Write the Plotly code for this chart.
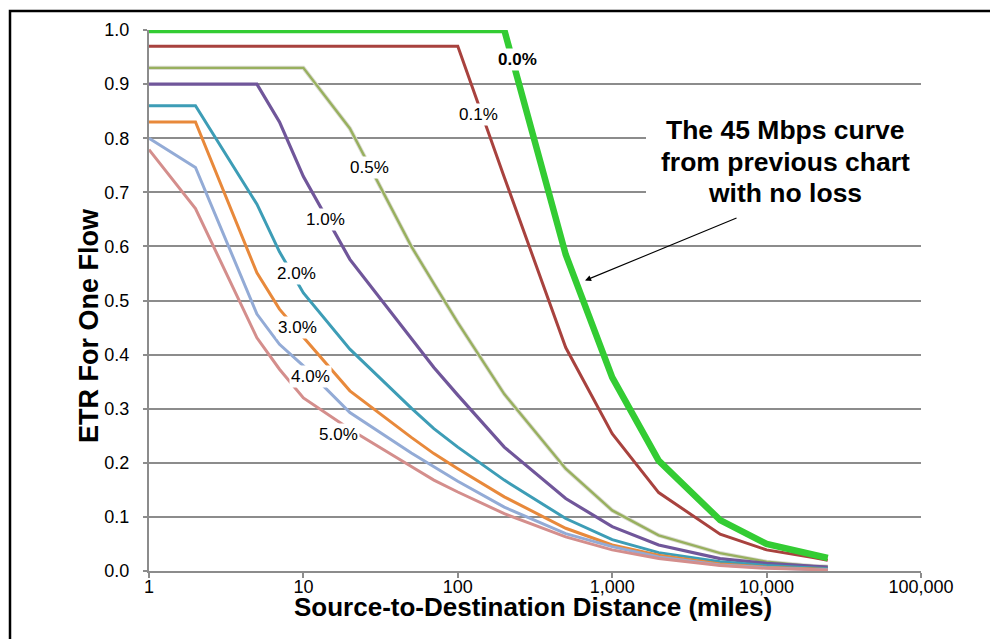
import plotly.graph_objects as go

# ---------------- data ----------------
distance_miles = [1, 2, 5, 7, 10, 20, 50, 70, 100, 200, 500, 1000, 2000, 5000, 10000, 20000, 24900]

loss_0_0 = [1.0, 1.0, 1.0, 1.0, 1.0, 1.0, 1.0, 1.0, 1.0, 1.0, 0.585, 0.358, 0.204, 0.094, 0.050, 0.029, 0.024]
loss_0_1 = [0.97, 0.97, 0.97, 0.97, 0.97, 0.97, 0.97, 0.97, 0.97, 0.728, 0.413, 0.254, 0.145, 0.068, 0.039, 0.025, 0.020]
loss_0_5 = [0.93, 0.93, 0.93, 0.93, 0.93, 0.818, 0.600, 0.531, 0.459, 0.327, 0.189, 0.112, 0.066, 0.033, 0.017, 0.009, 0.008]
loss_1_0 = [0.90, 0.90, 0.90, 0.83, 0.729, 0.576, 0.429, 0.376, 0.325, 0.229, 0.134, 0.082, 0.048, 0.023, 0.014, 0.008, 0.007]
loss_2_0 = [0.86, 0.86, 0.678, 0.590, 0.514, 0.410, 0.301, 0.263, 0.229, 0.168, 0.097, 0.058, 0.034, 0.017, 0.010, 0.005, 0.004]
loss_3_0 = [0.83, 0.83, 0.551, 0.484, 0.432, 0.333, 0.247, 0.217, 0.189, 0.137, 0.079, 0.048, 0.029, 0.013, 0.007, 0.004, 0.003]
loss_4_0 = [0.80, 0.746, 0.475, 0.419, 0.379, 0.293, 0.218, 0.192, 0.166, 0.118, 0.069, 0.045, 0.026, 0.011, 0.006, 0.003, 0.003]
loss_5_0 = [0.779, 0.670, 0.431, 0.373, 0.320, 0.262, 0.193, 0.168, 0.146, 0.106, 0.063, 0.039, 0.023, 0.010, 0.005, 0.003, 0.002]

series_labels = ["0.0%", "0.1%", "0.5%", "1.0%", "2.0%", "3.0%", "4.0%", "5.0%"]

x_tick_values = [1, 10, 100, 1000, 10000, 100000]
x_tick_labels = ["1", "10", "100", "1,000", "10,000", "100,000"]
y_tick_values = [0.0, 0.1, 0.2, 0.3, 0.4, 0.5, 0.6, 0.7, 0.8, 0.9, 1.0]
y_tick_labels = ["0.0", "0.1", "0.2", "0.3", "0.4", "0.5", "0.6", "0.7", "0.8", "0.9", "1.0"]

x_title = "Source-to-Destination Distance (miles)"
y_title = "ETR For One Flow"
note_lines = ["The 45 Mbps curve", "from previous chart", "with no loss"]

# ---------------- styling / layout ----------------
# The page body has an 8 px margin, so the figure is drawn 8 px smaller and
# all reference-pixel positions are relative to the plot area.
OFF = 8
W, H = 998 - OFF, 639 - OFF
L, R, T, B = 149, 921, 28, 571  # plot area in reference (screen) pixels
FONT = "Liberation Sans, Arial, sans-serif"
GRID = "#8c8c8c"


def px_x(px):
    return (px - L) / (R - L)


def px_y(py):
    return (B - py) / (B - T)


series = [
    # (values, colour, width, label, label pos (log10 x, y), bold)
    (loss_0_5, "#98B05E", 2.4, series_labels[2], (1.431, 0.746), False),
    (loss_1_0, "#70569A", 3.2, series_labels[3], (1.140, 0.650), False),
    (loss_2_0, "#3D9DB6", 3.0, series_labels[4], (0.957, 0.550), False),
    (loss_3_0, "#E8893B", 3.0, series_labels[5], (0.963, 0.451), False),
    (loss_4_0, "#93ABD6", 3.0, series_labels[6], (1.043, 0.360), False),
    (loss_5_0, "#D48E8C", 3.0, series_labels[7], (1.226, 0.252), False),
    (loss_0_1, "#A8423E", 3.0, series_labels[1], (2.133, 0.843), False),
    (loss_0_0, "#33CC33", 6.5, series_labels[0], (2.385, 0.945), True),
]

fig = go.Figure()

# soft halo under the 0.5% line (as in the reference)
fig.add_trace(go.Scatter(x=distance_miles, y=loss_0_5, mode="lines",
                         line=dict(color="#dcdcd4", width=4.2),
                         hoverinfo="skip", showlegend=False, cliponaxis=False))

annotations = []
for vals, col, w, lab, pos, bold in series:
    fig.add_trace(go.Scatter(x=distance_miles, y=vals, mode="lines", name=lab,
                             line=dict(color=col, width=w),
                             showlegend=False, cliponaxis=False))
    annotations.append(dict(
        x=pos[0], y=pos[1], xref="x", yref="y",
        text=f"<b>{lab}</b>" if bold else lab, showarrow=False,
        font=dict(family=FONT, size=17, color="black"),
        bgcolor="white", borderpad=1, xanchor="center", yanchor="middle"))

# note text (three lines) on a white box
note_y = [128, 160, 192]
for txt, yy in zip(note_lines, note_y):
    annotations.append(dict(
        x=px_x(785), y=px_y(yy), xref="paper", yref="paper",
        text=f"<b>{txt}</b>", showarrow=False,
        font=dict(family=FONT, size=26.5, color="black"),
        xanchor="center", yanchor="middle"))

# arrow pointing at the 0.0% curve
annotations.append(dict(
    x=2.824, y=0.537, xref="x", yref="y", text="",
    showarrow=True, ax=153, ay=-63, arrowhead=2, arrowsize=1.1,
    arrowwidth=1.1, arrowcolor="black", standoff=0))

# axis titles
annotations.append(dict(
    x=px_x(533), y=px_y(607), xref="paper", yref="paper",
    text=f"<b>{x_title}</b>", showarrow=False,
    font=dict(family=FONT, size=26, color="black"),
    xanchor="center", yanchor="middle", borderpad=0))
annotations.append(dict(
    x=px_x(89), y=px_y(325), xref="paper", yref="paper",
    text=f"<b>{y_title}</b>", showarrow=False, textangle=-90,
    font=dict(family=FONT, size=27, color="black"),
    xanchor="center", yanchor="middle"))

shapes = [
    # white box behind the note
    dict(type="rect", xref="paper", yref="paper",
         x0=px_x(646), x1=px_x(930), y0=px_y(212), y1=px_y(100),
         fillcolor="white", line=dict(width=0), layer="above"),
    # outer frame (top and left visible)
    dict(type="rect", xref="paper", yref="paper",
         x0=px_x(10), x1=px_x(1030), y0=px_y(660), y1=px_y(9),
         line=dict(color="black", width=2.5), fillcolor="rgba(0,0,0,0)", layer="above"),
]

fig.update_layout(
    width=W, height=H,
    margin=dict(l=L - OFF, r=W - (R - OFF), t=T - OFF, b=H - (B - OFF), pad=0),
    paper_bgcolor="white", plot_bgcolor="white",
    showlegend=False, hovermode=False,
    annotations=annotations, shapes=shapes,
    font=dict(family=FONT, size=18, color="black"),
)

fig.update_xaxes(
    type="log", range=[0, 5],
    tickvals=x_tick_values, ticktext=x_tick_labels,
    ticks="outside", ticklen=5, tickwidth=1.5, tickcolor=GRID,
    showline=True, linecolor=GRID, linewidth=2,
    showgrid=False, zeroline=False,
    tickfont=dict(family=FONT, size=18, color="black"),
    ticklabelstandoff=-7,
)
fig.update_yaxes(
    range=[0, 1], tickvals=y_tick_values, ticktext=y_tick_labels,
    ticks="outside", ticklen=4, tickwidth=2, tickcolor=GRID,
    showline=True, linecolor=GRID, linewidth=2,
    showgrid=True, gridcolor=GRID, gridwidth=2, zeroline=False,
    tickfont=dict(family=FONT, size=18, color="black"),
    ticklabelstandoff=10,
)

fig.write_html("out.html")
